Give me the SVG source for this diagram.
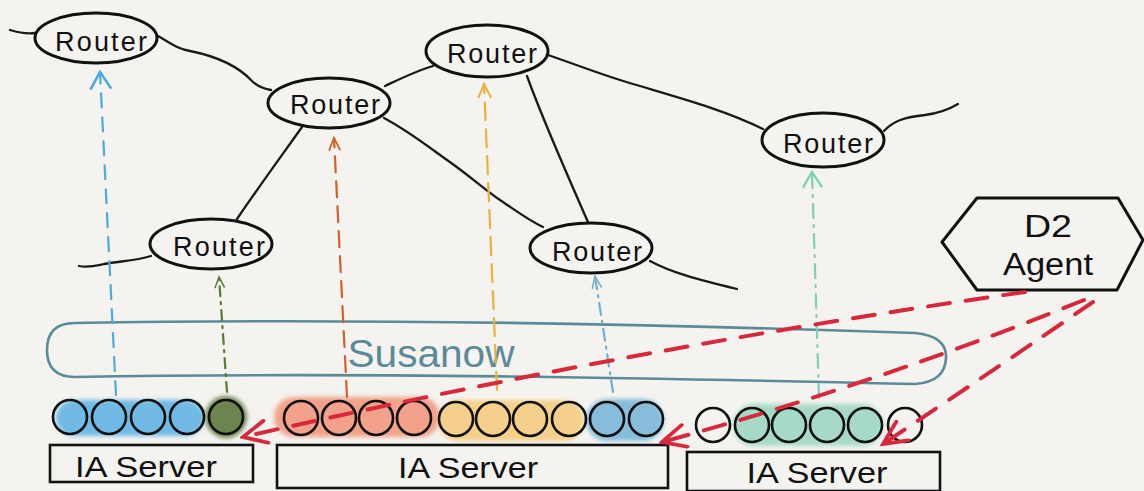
<svg xmlns="http://www.w3.org/2000/svg" width="1144" height="491" viewBox="0 0 1144 491">
<defs>
<style>
.bg{fill:#f4f3f0}
.router ellipse{fill:#f4f3f0;stroke:#111;stroke-width:3}
.lbl{font-family:"Liberation Sans",Arial,sans-serif;fill:#111;text-anchor:middle}
.rt{font-size:27px}
.link{fill:none;stroke:#1a1a1a;stroke-width:2.3;stroke-linecap:round}
.q circle{fill:none;stroke:#111;stroke-width:2.6}
.blob{filter:url(#soft)}
.srv rect{fill:none;stroke:#111;stroke-width:2.6}
.st{font-size:30px}
.up{fill:none;stroke-width:2.2;stroke-linecap:round}
.red{fill:none;stroke:#d8283c;stroke-width:4;stroke-dasharray:22 16;stroke-linecap:round}
</style>
<filter id="soft" x="-10%" y="-30%" width="120%" height="160%"><feGaussianBlur stdDeviation="2"/></filter>
<marker id="mBlue" viewBox="-2 -2 18 20" refX="14" refY="8" markerWidth="22" markerHeight="26" markerUnits="userSpaceOnUse" orient="auto" preserveAspectRatio="none"><path d="M0,0 L14,8 L0,16" fill="none" stroke="#4fa9de" stroke-width="2"/></marker>
<marker id="mOlive" viewBox="-2 -2 18 20" refX="14" refY="8" markerWidth="14" markerHeight="12" markerUnits="userSpaceOnUse" orient="auto" preserveAspectRatio="none"><path d="M0,0 L14,8 L0,16" fill="none" stroke="#5b7a34" stroke-width="2.4"/></marker>
<marker id="mOrange" viewBox="-2 -2 18 20" refX="14" refY="8" markerWidth="16" markerHeight="14" markerUnits="userSpaceOnUse" orient="auto" preserveAspectRatio="none"><path d="M0,0 L14,8 L0,16" fill="none" stroke="#d2602a" stroke-width="2.4"/></marker>
<marker id="mYellow" viewBox="-2 -2 18 20" refX="14" refY="8" markerWidth="18" markerHeight="16" markerUnits="userSpaceOnUse" orient="auto" preserveAspectRatio="none"><path d="M0,0 L14,8 L0,16" fill="none" stroke="#e9b23a" stroke-width="2.4"/></marker>
<marker id="mLBlue" viewBox="-2 -2 18 20" refX="14" refY="8" markerWidth="16" markerHeight="12" markerUnits="userSpaceOnUse" orient="auto" preserveAspectRatio="none"><path d="M0,0 L14,8 L0,16" fill="none" stroke="#6fb0d0" stroke-width="2.4"/></marker>
<marker id="mTeal" viewBox="-2 -2 18 20" refX="14" refY="8" markerWidth="20" markerHeight="24" markerUnits="userSpaceOnUse" orient="auto" preserveAspectRatio="none"><path d="M0,0 L14,8 L0,16" fill="none" stroke="#7fcfb5" stroke-width="2"/></marker>
<marker id="mRed" viewBox="-2 -2 18 20" refX="14" refY="8" markerWidth="30" markerHeight="28" markerUnits="userSpaceOnUse" orient="auto" preserveAspectRatio="none"><path d="M0,0 L14,8 L0,16" fill="none" stroke="#d8283c" stroke-width="2.6" stroke-linecap="round"/></marker>
</defs>

<rect class="bg" x="0" y="0" width="1144" height="491"/>

<!-- links between routers (connectors) -->
<g id="connectors">
<g id="router-links">
<path class="link" d="M10,30 C20,33 28,34 35,33"/>
<path class="link" d="M158,36 C172,44 178,49 190,51 C215,56 238,66 252,81 C258,87 265,89 271,90"/>
<path class="link" d="M385,86 C402,78 416,71 433,66"/>
<path class="link" d="M302,127 C280,158 258,188 237,219"/>
<path class="link" d="M384,118 C410,132 430,148 447,160 C470,176 485,190 500,200 C515,210 528,220 543,227"/>
<path class="link" d="M527,76 C540,112 565,170 588,222"/>
<path class="link" d="M548,55 C580,66 605,76 633,84 C680,98 725,110 763,129"/>
<path class="link" d="M884,131 C893,121 905,117 925,115 C940,113 948,110 958,104"/>
<path class="link" d="M151,256 C135,261 120,261 104,264 C95,266 88,268 79,266"/>
<path class="link" d="M650,261 C672,273 700,280 737,289"/>
</g>
</g>

<!-- routers -->
<g id="router-tl" class="router"><ellipse cx="96" cy="38" rx="61" ry="25"/><text class="lbl rt" x="101" y="51" textLength="92" lengthAdjust="spacing">Router</text></g>
<g id="router-cl" class="router"><ellipse cx="329" cy="103" rx="61" ry="25"/><text class="lbl rt" x="335" y="114" textLength="90" lengthAdjust="spacing">Router</text></g>
<g id="router-tc" class="router"><ellipse cx="487" cy="51" rx="61" ry="26"/><text class="lbl rt" x="492" y="63" textLength="90" lengthAdjust="spacing">Router</text></g>
<g id="router-r" class="router"><ellipse cx="823" cy="140" rx="61" ry="27"/><text class="lbl rt" x="828" y="153" textLength="90" lengthAdjust="spacing">Router</text></g>
<g id="router-ll" class="router"><ellipse cx="211" cy="244" rx="61" ry="25"/><text class="lbl rt" x="219" y="256" textLength="92" lengthAdjust="spacing">Router</text></g>
<g id="router-lr" class="router"><ellipse cx="591" cy="248" rx="61" ry="25"/><text class="lbl rt" x="597" y="261" textLength="90" lengthAdjust="spacing">Router</text></g>

<!-- Susanow -->
<g id="susanow">
<path d="M75,323 C350,318 650,324 915,333 Q947,336 946,358 Q945,382 915,384 C650,378 350,372 75,377 Q47,377 47,350 Q47,323 75,323 Z" fill="none" stroke="#5b8a98" stroke-width="2.6"/>
<text x="431" y="367" font-family="'Liberation Sans',Arial,sans-serif" font-size="38" fill="#5b8a98" text-anchor="middle" textLength="167" lengthAdjust="spacingAndGlyphs">Susanow</text>
</g>

<!-- D2 Agent -->
<g id="d2-agent">
<polygon points="942,242 977,198 1118,198 1143,240 1117,290 977,290" fill="none" stroke="#111" stroke-width="3" stroke-linejoin="round"/>
<text class="lbl" x="1048" y="237" font-size="32" textLength="48" lengthAdjust="spacingAndGlyphs">D2</text>
<text class="lbl" x="1048" y="275" font-size="31" textLength="90" lengthAdjust="spacingAndGlyphs">Agent</text>
</g>

<!-- queues -->
<g id="queue-1" class="q">
<rect class="blob" x="56" y="400" width="148" height="36" rx="18" fill="#62b4e4" opacity="0.9"/>
<circle class="blob" cx="226" cy="417" r="21" style="fill:#6e8450;stroke:none"/>
<circle cx="70" cy="417" r="17"/><circle cx="109" cy="417" r="17"/><circle cx="148" cy="417" r="17"/><circle cx="187" cy="417" r="17"/><circle cx="226" cy="417" r="17"/>
</g>
<g id="queue-2" class="q">
<rect class="blob" x="274" y="397" width="166" height="40" rx="20" fill="#f29a80" opacity="0.9"/>
<rect class="blob" x="438" y="400" width="146" height="41" rx="20" fill="#f5cd80" opacity="0.9"/>
<rect class="blob" x="586" y="399" width="78" height="42" rx="21" fill="#7cb8d8" opacity="0.9"/>
<circle cx="301" cy="418" r="17"/><circle cx="339" cy="418" r="17"/><circle cx="376" cy="418" r="17"/><circle cx="414" cy="418" r="17"/>
<circle cx="456" cy="419" r="17"/><circle cx="493" cy="419" r="17"/><circle cx="530" cy="419" r="17"/><circle cx="569" cy="419" r="17"/>
<circle cx="607" cy="419" r="17"/><circle cx="646" cy="419" r="17"/>
</g>
<g id="queue-3" class="q">
<rect class="blob" x="733" y="404" width="150" height="42" rx="21" fill="#9fd8c2" opacity="0.9"/>
<circle cx="713" cy="425" r="17"/><circle cx="752" cy="425" r="17"/><circle cx="789" cy="425" r="17"/><circle cx="827" cy="425" r="17"/><circle cx="865" cy="425" r="17"/><circle cx="905" cy="425" r="17"/>
</g>

<!-- servers -->
<g id="server-1" class="srv"><rect x="50" y="445" width="203" height="37"/><text class="lbl st" x="146" y="477" textLength="142" lengthAdjust="spacingAndGlyphs">IA Server</text></g>
<g id="server-2" class="srv"><rect x="277" y="445" width="391" height="43"/><text class="lbl st" x="468" y="478" textLength="140" lengthAdjust="spacingAndGlyphs">IA Server</text></g>
<g id="server-3" class="srv"><rect x="687" y="452" width="253" height="39"/><text class="lbl st" x="817" y="483" textLength="141" lengthAdjust="spacingAndGlyphs">IA Server</text></g>

<!-- upward dashed arrows and agent arrows (connectors) -->
<g id="connectors-flows">
<path class="up" d="M116,395 L100,72" stroke="#4fa9de" stroke-dasharray="14 10" marker-end="url(#mBlue)"/>
<path class="up" d="M227,392 L219,277" stroke="#5b7a34" stroke-dasharray="10 6 2 6" marker-end="url(#mOlive)"/>
<path class="up" d="M347,397 L334,138" stroke="#d2602a" stroke-dasharray="16 9" marker-end="url(#mOrange)"/>
<path class="up" d="M497,390 L484,84" stroke="#e9b23a" stroke-dasharray="18 9" marker-end="url(#mYellow)"/>
<path class="up" d="M613,392 L595,276" stroke="#6fb0d0" stroke-dasharray="12 6 2 6" marker-end="url(#mLBlue)"/>
<path class="up" d="M819,398 L812,172" stroke="#7fcfb5" stroke-dasharray="14 7 2 7" marker-end="url(#mTeal)"/>
<path class="red" d="M1025,292 Q634,348 243,437" marker-end="url(#mRed)"/>
<path class="red" d="M1084,300 Q873,385 662,442" marker-end="url(#mRed)"/>
<path class="red" d="M1093,302 Q1000,366 883,444" marker-end="url(#mRed)"/>
</g>
</svg>
